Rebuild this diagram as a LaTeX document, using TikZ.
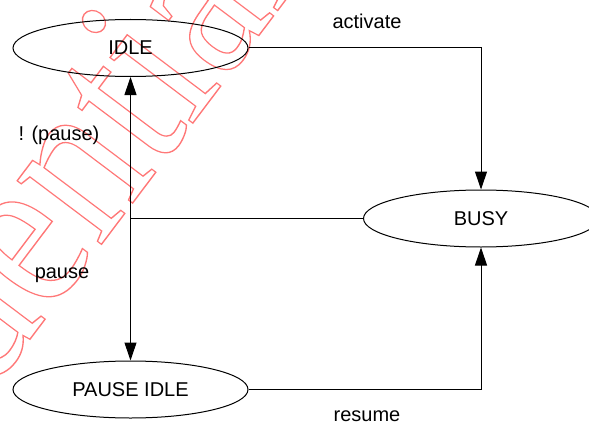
\documentclass[tikz,border=0pt]{standalone}
\usepackage{fontspec}
\setmainfont{Liberation Sans}
\newfontfamily\stampfont{Liberation Serif}
\usetikzlibrary{arrows.meta,shapes.geometric}
\definecolor{stampred}{RGB}{255,120,120}
\tikzset{
  state/.style={ellipse, draw=black, line width=1pt, minimum width=235pt,
    minimum height=57pt, inner sep=0pt, font=\fontsize{20}{24}\selectfont},
  label text/.style={inner sep=0pt, font=\fontsize{20}{24}\selectfont},
  flow/.style={line width=1pt, -{Triangle[length=18pt,width=12pt]}},
  link/.style={line width=1pt},
}
\begin{document}
\begin{tikzpicture}[x=1pt,y=-1pt]
\useasboundingbox (0,0) rectangle (589,428);
\clip (0,0) rectangle (589,428);

% outlined, slightly condensed stamp across the sheet
\begin{scope}[color=stampred, shift={(-280.4,751.1)}, rotate=53, xscale=0.85]
  \node[transform shape, inner sep=0pt, anchor=base west,
        font=\stampfont\fontsize{230}{230}\selectfont]
    (stamp) at (0,0)
    {\special{pdf:literal direct 1 Tr 1.4 w}Confidential\special{pdf:literal direct 0 Tr}};
\end{scope}

% states
\node[state] (idle)  at (130.5,48)    {IDLE};
\node[state] (busy)  at (481,218.5)   {BUSY};
\node[state] (pidle) at (130.5,389.5) {PAUSE IDLE};

% transition labels
\node[label text] (lact) at (367,21)  {activate};
\node[label text] (lres) at (367,416) {resume};
\node[label text] (lnp)  at (59,135)  {! (pause)};
\node[label text] (lp)   at (62,275)  {pause};

% transitions
\draw[flow] (idle.east) -| (busy.north);
\draw[flow] (pidle.east) -| (busy.south);
\coordinate (join) at (idle.south |- busy.west);
\draw[link] (busy.west) -- (join);
\draw[flow, {Triangle[length=18pt,width=12pt]}-{Triangle[length=18pt,width=12pt]}]
  (idle.south) -- (pidle.north);
\end{tikzpicture}
\end{document}
